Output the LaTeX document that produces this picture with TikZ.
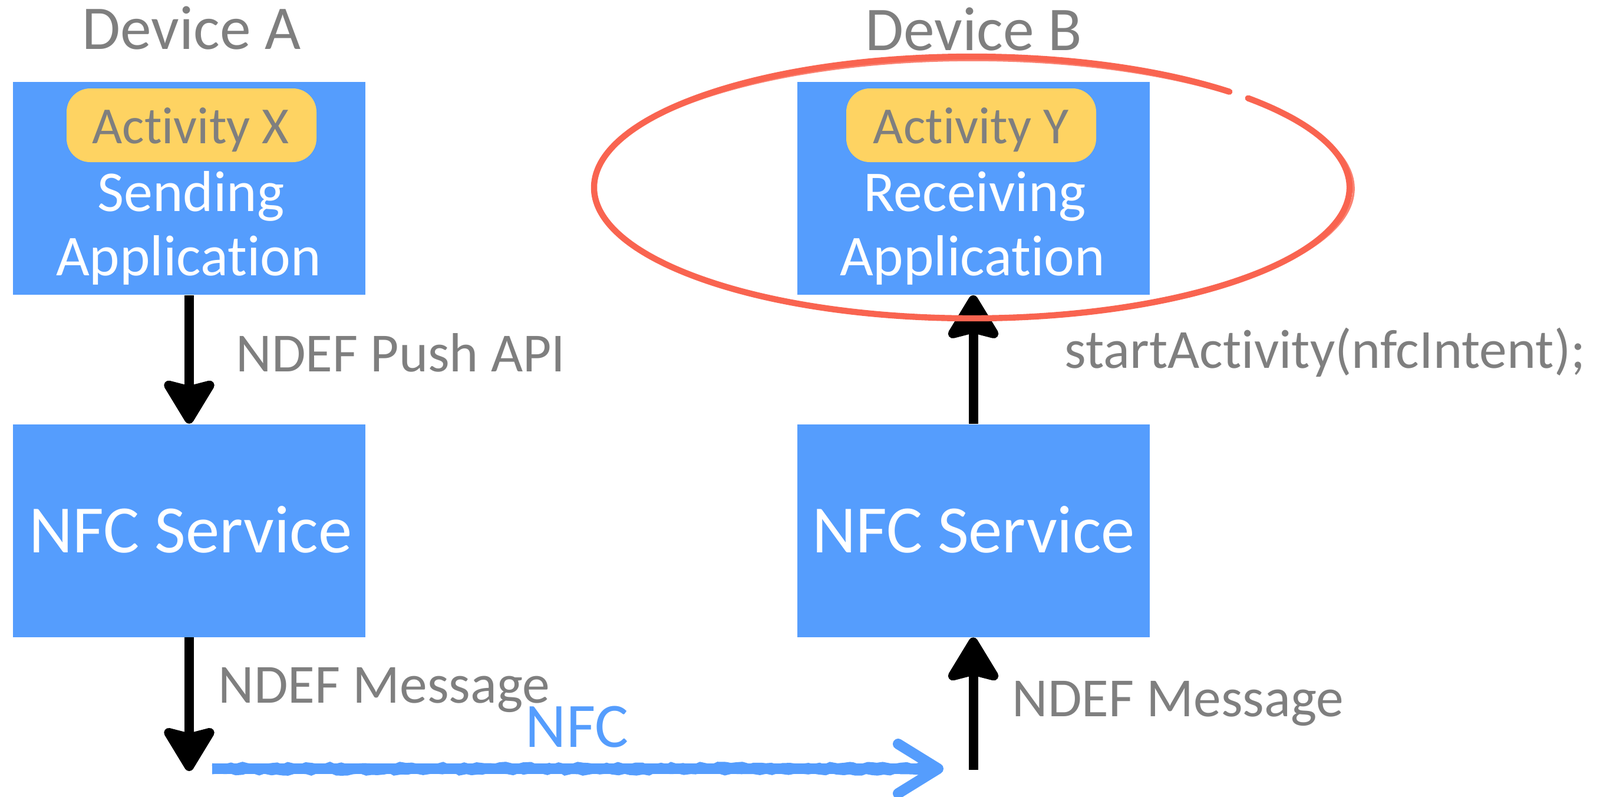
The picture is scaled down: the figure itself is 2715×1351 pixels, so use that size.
\documentclass[tikz,border=0pt]{standalone}
\usepackage{fontspec}
\setmainfont{Carlito}[Ligatures=NoCommon]
\usepackage{tikz}
\usetikzlibrary{arrows.meta}
\usetikzlibrary{decorations.pathmorphing}

\definecolor{boxblue}{RGB}{85,157,253}
\definecolor{pillyellow}{RGB}{254,211,98}
\definecolor{txtgray}{RGB}{127,127,127}
\definecolor{ringred}{RGB}{249,100,80}

\begin{document}
\begin{tikzpicture}[x=0.25pt,y=0.25pt,yscale=-1,xscale=1,
  appbox/.style={fill=boxblue, inner sep=0pt, minimum width=149.5pt, minimum height=90.25pt},
  actpill/.style={fill=pillyellow, rounded corners=10pt, inner sep=0pt, minimum width=106pt, minimum height=31.25pt},
  devtext/.style={text=txtgray, inner sep=0pt, font=\fontsize{26.4}{30}\selectfont},
  acttext/.style={text=txtgray, inner sep=0pt, font=\fontsize{22.1}{26}\selectfont},
  apptext/.style={text=white, inner sep=0pt, font=\fontsize{24.5}{30}\selectfont},
  svctext/.style={text=white, inner sep=0pt, font=\fontsize{28.7}{32}\selectfont},
  msgtext/.style={text=txtgray, inner sep=0pt, font=\fontsize{23.4}{26}\selectfont},
  blkarrow/.style={line width=4pt, -{Stealth[length=21pt,width=25pt,inset=3pt,round]}},
  nfcarrow/.style={draw=boxblue, line width=4.5pt, -{Straight Barb[length=17pt,width=21pt,round]}},
  nfcrough/.style={draw=boxblue, line width=1.1pt, decorate, decoration={random steps, segment length=2.5pt, amplitude=0.6pt}}]
\useasboundingbox (0,0) rectangle (2715,1351);

%Shape: Rectangle [sending side]
\node[appbox] (sendapp) at (321,319.5) {};
\node[actpill] (actx) at (325,212.5) {};
\node[appbox] (nfcA) at (321,900) {};
%Shape: Rectangle [receiving side]
\node[appbox] (recvapp) at (1651.5,319.5) {};
\node[actpill] (acty) at (1648,212.5) {};
\node[appbox] (nfcB) at (1651.5,900) {};

% Text Node
\node[devtext, anchor=base] (deva) at (325,83) {Device A};
% Text Node
\node[devtext, anchor=base] (devb) at (1652,85) {Device B};
% Text Node
\node[acttext, anchor=base] (actxtext) at (323.5,243) {Activity X};
% Text Node
\node[acttext, anchor=base] (actytext) at (1647.5,243) {Activity Y};
% Text Node
\node[apptext, anchor=base] (sendl1) at (324,358) {Sending};
\node[apptext, anchor=base] (sendl2) at (320,467) {Application};
% Text Node
\node[apptext, anchor=base] (recvl1) at (1654,358) {Receiving};
\node[apptext, anchor=base] (recvl2) at (1650,467) {Application};
% Text Node
\node[svctext, anchor=base] (svca) at (323.5,937) {NFC Service};
\node[svctext, anchor=base] (svcb) at (1652,937) {NFC Service};

%Straight Lines
\coordinate (nfcAout) at (321,1308);
\coordinate (nfcBin) at (1651.5,1306);
\coordinate (nfcstart) at (360,1304);
\coordinate (nfcend) at (1601,1304);
\draw[blkarrow] (sendapp) -- (nfcA);
\draw[blkarrow] (nfcA) -- (nfcAout);
\draw[blkarrow] (nfcBin) -- (nfcB);
\draw[blkarrow] (nfcB) -- (recvapp);
\draw[nfcarrow] (nfcstart) -- (nfcend);
\draw[nfcrough] ([yshift=-1.8pt]nfcstart) -- ([xshift=-6pt,yshift=-1.8pt]nfcend);
\draw[nfcrough] ([yshift=1.8pt]nfcstart) -- ([xshift=-6pt,yshift=1.8pt]nfcend);

% Text Node
\node[msgtext, anchor=base west] (pushapi) at (400,630) {NDEF Push API};
% Text Node
\node[msgtext, anchor=base west] (msga) at (370,1192) {NDEF Message};
% Text Node
\node[msgtext, anchor=base west] (msgb) at (1717,1215) {NDEF Message};
% Text Node
\node[msgtext, anchor=base west] (startact) at (1806,624) {startActivity(nfcIntent);};
% Text Node
\node[text=boxblue, inner sep=0pt, font=\fontsize{26.8}{30}\selectfont, anchor=base west] (nfclabel) at (891,1267) {NFC};

%Shape: Ellipse [hand drawn ring]
\draw[ringred, line width=2.6pt, line cap=round] (1649,318) ++(-43:641 and 222) arc[start angle=-43, end angle=313, x radius=641, y radius=222];
\draw[ringred, line width=0.9pt, opacity=0.8, line cap=round] (1651,320) ++(-40:646 and 218) arc[start angle=-40, end angle=312, x radius=646, y radius=218];

\end{tikzpicture}
\end{document}
